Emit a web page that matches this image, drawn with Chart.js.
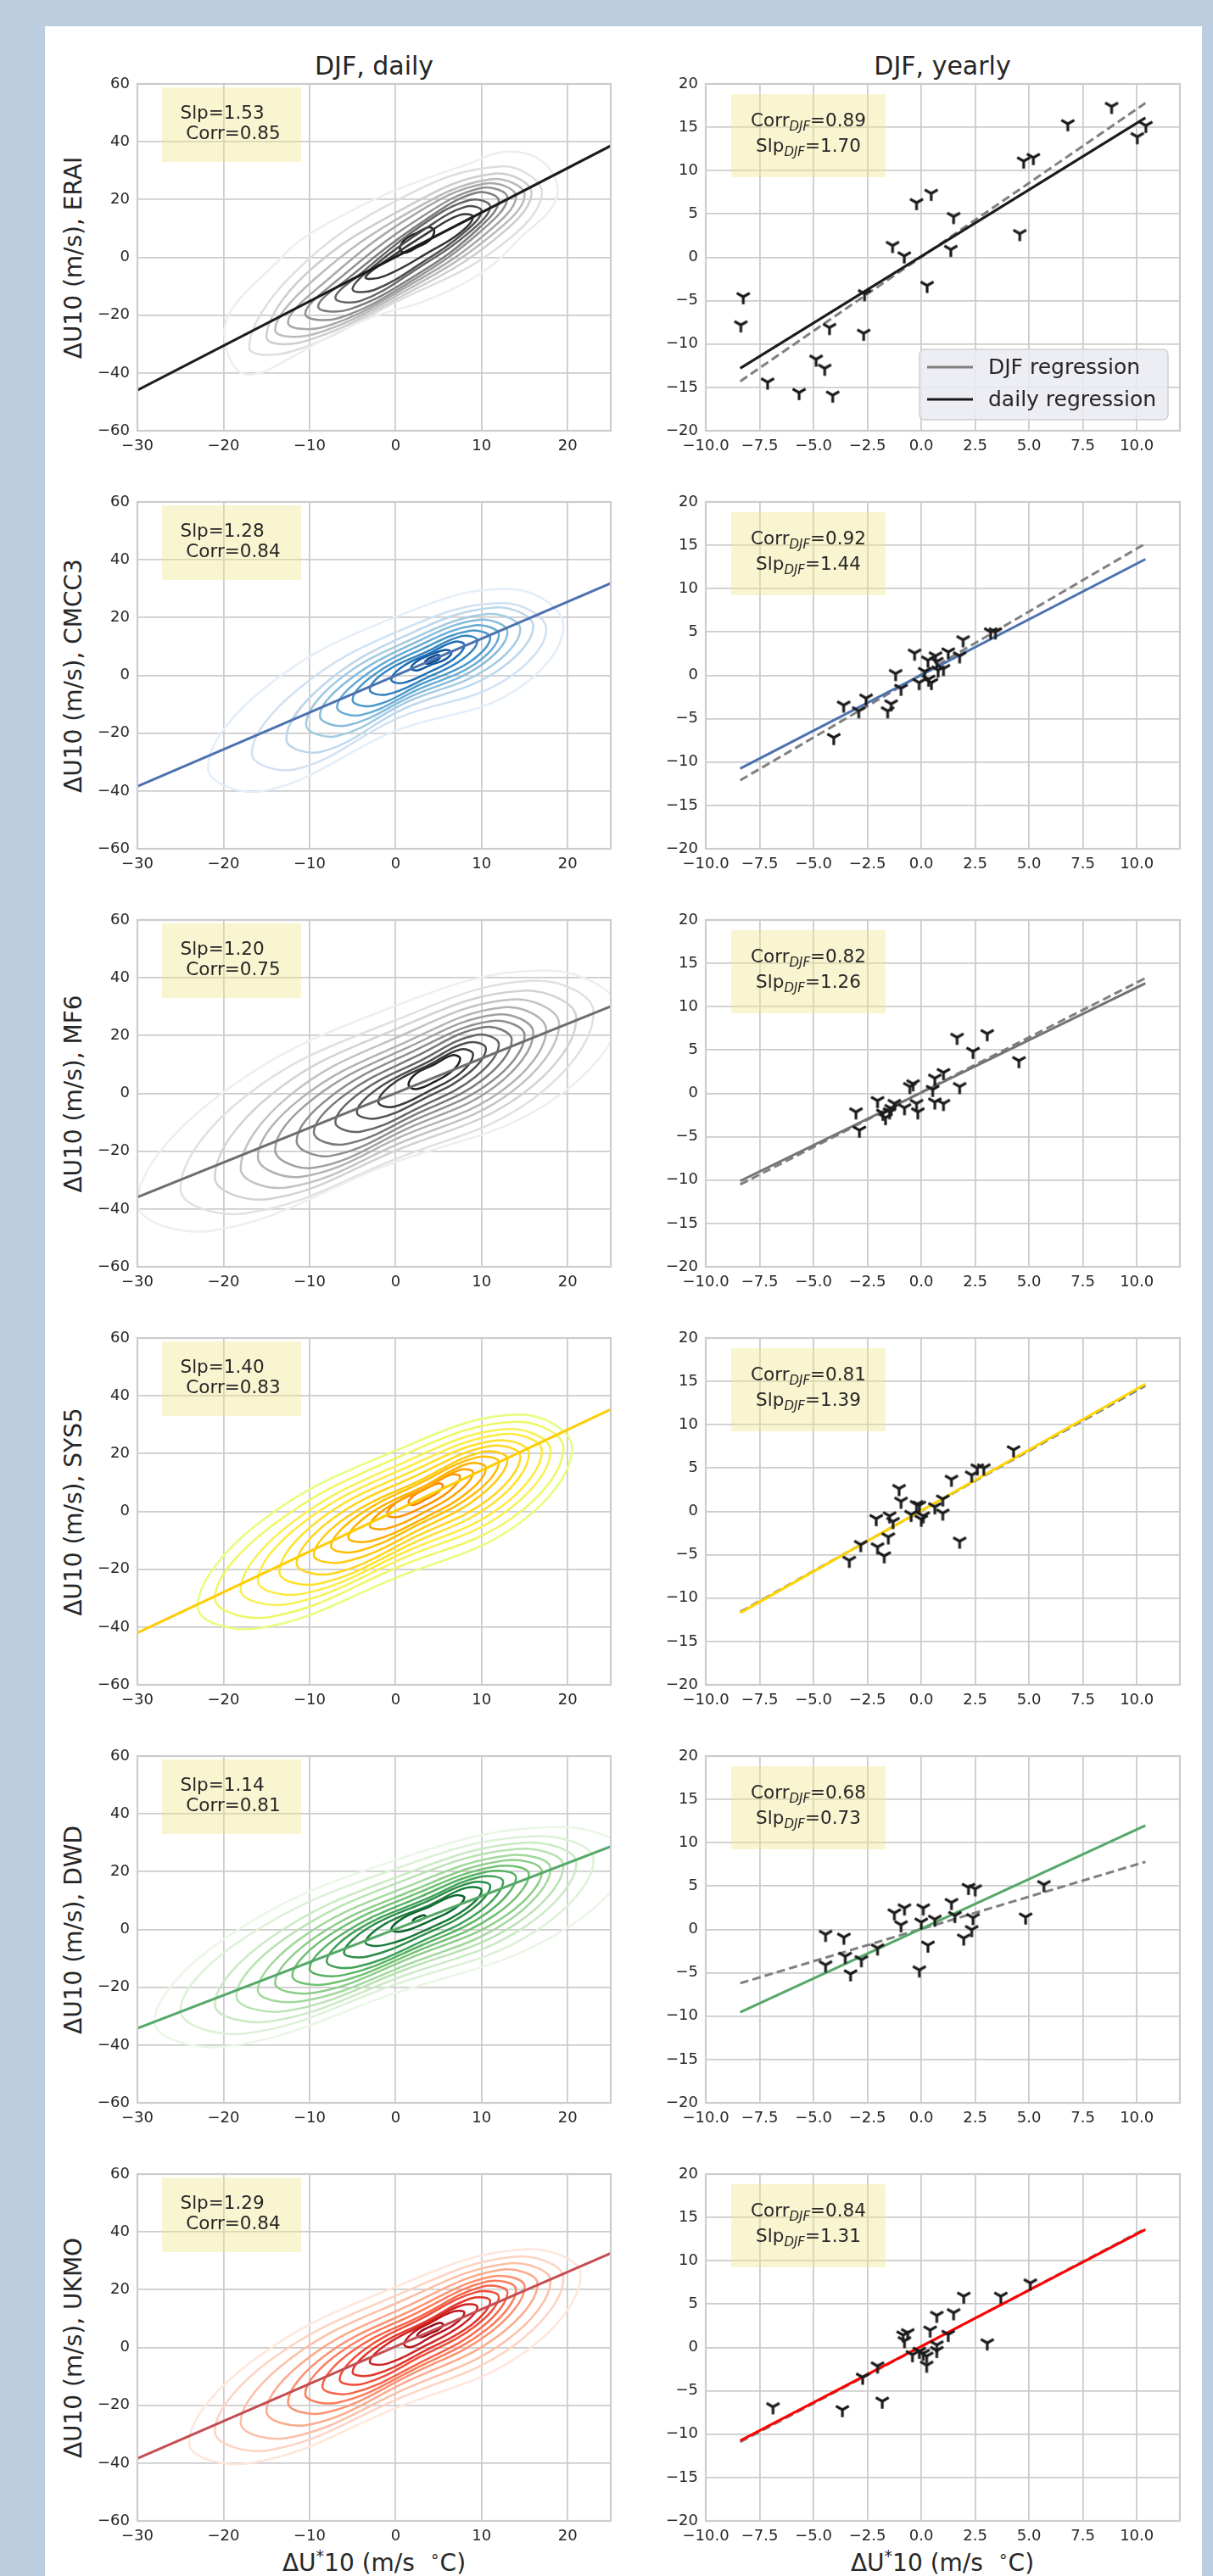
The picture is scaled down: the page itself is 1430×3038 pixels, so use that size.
<!DOCTYPE html>
<html>
<head>
<meta charset="utf-8">
<script src="https://cdn.jsdelivr.net/npm/chart.js@4.4.1/dist/chart.umd.min.js"></script>
<style>
  html, body { margin: 0; padding: 0; }
  body {
    width: 1430px; height: 3038px; position: relative; overflow: hidden;
    background: #bccde0; font-family: "DejaVu Sans", sans-serif; color: #262626;
  }
  #sheet { position: absolute; left: 53px; top: 31px; width: 1364px; height: 3007px; background: #fff; }
  canvas.cv { position: absolute; }
  .lbl { position: absolute; white-space: nowrap; transform: translate(-50%, -50%); }
  .title { font-size: 30px; }
  .xlab { font-size: 28px; }
  .ylab { font-size: 28px; transform: translate(-50%, -50%) rotate(-90deg); }
  sup { font-size: 0.68em; vertical-align: 0.55em; line-height: 0; }
</style>
</head>
<body>
<div id="sheet"></div>
<div class="lbl title" style="left:441px;top:77px">DJF, daily</div>
<div class="lbl title" style="left:1111px;top:77px">DJF, yearly</div>
<div class="lbl xlab" style="left:441px;top:3022px">ΔU<sup>*</sup>10 (m/s &nbsp;<sup>∘</sup>C)</div>
<div class="lbl xlab" style="left:1111px;top:3022px">ΔU<sup>*</sup>10 (m/s &nbsp;<sup>∘</sup>C)</div>

<script>
// ---------- data ----------
const models = ["ERAI", "CMCC3", "MF6", "SYS5", "DWD", "UKMO"];

const dailyXTicks = [-30, -20, -10, 0, 10, 20];
const dailyYTicks = [-60, -40, -20, 0, 20, 40, 60];
const yearlyXTicks = [-10, -7.5, -5, -2.5, 0, 2.5, 5, 7.5, 10];
const yearlyYTicks = [-20, -15, -10, -5, 0, 5, 10, 15, 20];

const dailySlope = [1.53, 1.28, 1.20, 1.40, 1.14, 1.29];
const dailyCorr = [0.85, 0.84, 0.75, 0.83, 0.81, 0.84];
const yearlyCorr = [0.89, 0.92, 0.82, 0.81, 0.68, 0.84];
const yearlySlope = [1.70, 1.44, 1.26, 1.39, 0.73, 1.31];

// regression lines: y at the two end x values
const dailyLineX = [-30, 25];
const eraiLineDaily = [-46, 38.6];
const cmccLineDaily = [-38.4, 31.9];
const mf6LineDaily = [-35.9, 30.1];
const sys5LineDaily = [-42, 35.3];
const dwdLineDaily = [-34.2, 28.7];
const ukmoLineDaily = [-38.4, 32.6];

const yearlyLineX = [-8.4, 10.4];
const eraiLineYr = [-12.8, 16.1], eraiLineDjf = [-14.3, 17.8];
const cmccLineYr = [-10.75, 13.4], cmccLineDjf = [-12.1, 15.2];
const mf6LineYr = [-10.1, 12.7], mf6LineDjf = [-10.5, 13.3];
const sys5LineYr = [-11.7, 14.7], sys5LineDjf = [-11.6, 14.5];
const dwdLineYr = [-9.55, 12.0], dwdLineDjf = [-6.2, 7.8];
const ukmoLineYr = [-10.75, 13.6], ukmoLineDjf = [-10.9, 13.7];

// yearly scatter
const eraiYearX = [-8.26, -8.37, -7.13, -5.67, -4.88, -4.48, -4.26, -4.11, -2.63, -2.67, -1.33, -0.79, -0.22, 0.27, 0.46, 1.37, 1.5, 4.57, 4.75, 5.2, 6.8, 8.83, 10.02, 10.42];
const eraiYearY = [-4.55, -7.8, -14.4, -15.6, -11.75, -12.8, -8.1, -15.9, -4.2, -8.77, 1.36, 0.16, 6.3, -3.25, 7.37, 0.9, 4.7, 2.73, 11.1, 11.5, 15.4, 17.4, 13.9, 15.2];
const cmccYearX = [-4.06, -3.6, -2.9, -2.56, -1.56, -1.4, -1.19, -0.94, -0.31, -0.1, 0.16, 0.31, 0.34, 0.47, 0.66, 0.72, 0.78, 1.03, 1.25, 1.78, 1.94, 3.22, 3.44];
const cmccYearY = [-7.18, -3.44, -4.1, -2.63, -4.1, -3.3, 0.2, -1.5, 2.56, -0.84, 0.45, 1.75, -0.45, -0.84, 2.24, 1.6, 0.6, 0.78, 2.7, 2.24, 4.1, 5.0, 5.0];
const mf6YearX = [-3.03, -2.87, -2.03, -1.78, -1.66, -1.47, -1.25, -0.78, -0.53, -0.38, -0.22, -0.16, 0.53, 0.63, 0.63, 1.03, 1.03, 1.78, 1.66, 2.4, 3.06, 4.53, -1.4];
const mf6YearY = [-2.14, -4.25, -0.84, -2.3, -2.8, -2.14, -1.17, -1.66, 0.78, 1.1, -1.17, -2.14, 0.45, 1.75, -1.0, 2.4, -1.17, 0.78, 6.46, 4.84, 6.88, 3.77, -1.75];
const sys5YearX = [-3.34, -2.81, -2.09, -2.03, -1.72, -1.53, -1.47, -1.31, -1.03, -0.94, -0.47, -0.22, -0.09, 0.0, 0.09, 0.63, 1.0, 1.0, 1.4, 1.78, 2.34, 2.6, 2.9, 4.28];
const sys5YearY = [-5.65, -3.83, -0.84, -4.1, -5.13, -2.95, -0.52, -1.17, 2.63, 1.17, -0.36, 0.78, 0.71, -0.9, -0.52, 0.52, 1.43, -0.2, 3.7, -3.44, 4.19, 5.0, 5.0, 7.1];
const dwdYearX = [-4.44, -4.44, -3.59, -3.53, -3.28, -2.78, -2.03, -1.25, -0.94, -0.78, -0.09, 0.0, 0.09, 0.31, 0.63, 1.4, 1.56, 1.97, 2.19, 2.5, 2.4, 2.34, 4.84, 5.69];
const dwdYearY = [-0.58, -4.1, -0.9, -3.1, -5.13, -3.5, -2.14, 1.9, 0.52, 2.47, -4.68, 0.84, 2.47, -1.82, 1.17, 3.1, 1.6, -1.0, 4.84, 4.68, 1.36, -0.03, 1.43, 5.16];
const ukmoYearX = [-6.88, -3.66, -2.72, -2.03, -1.81, -0.84, -0.78, -0.63, -0.41, -0.09, 0.09, 0.25, 0.25, 0.41, 0.72, 0.72, 0.72, 1.25, 1.5, 1.97, 3.06, 3.69, 5.06];
const ukmoYearY = [-6.85, -7.18, -3.44, -2.14, -6.2, 1.43, 0.78, 1.69, -0.84, -0.45, -0.68, -1.0, -2.05, 2.0, 3.7, 0.29, -0.36, 1.5, 4.0, 5.9, 0.52, 5.9, 7.43];

// daily density contours (outer -> inner), vertices traced round each ring
const eraiKde = [
  [[-19.9,-26.3],[-18.7,-38],[-16.5,-40.5],[-12.4,-35.1],[-7.4,-26.8],[-2.5,-20.5],[3.8,-14.6],[10.2,-4.9],[14.2,5.9],[18.7,20.5],[17.4,32.2],[13.3,36.6],[8.3,32.2],[-0.7,22.4],[-6.1,14.6],[-11.1,5.9],[-14.2,-2.9],[-18.7,-16.6]],
  [[-17,-31],[-12,-32.5],[0,-15.5],[11.5,2.5],[17,22],[12.3,31.5],[0,19.5],[-12,-6]],
  [[-15,-27.5],[-10.5,-29],[1,-13],[11,5],[15.8,22],[11.5,29],[1,17],[-10.5,-6]],
  [[-14,-25],[-9.4,-26.5],[1.5,-11],[10.8,6.8],[15,21.5],[11,27],[1.5,15.5],[-9.4,-7.5]],
  [[-12.5,-22.5],[-8.2,-24],[2,-9],[10.2,7.5],[14,21],[10.4,25.5],[2,14.5],[-8.2,-8.5]],
  [[-10.5,-19.5],[-6.6,-21],[2.5,-7],[9.7,8.5],[13,20.5],[9.9,24],[2.5,13],[-6.6,-7.5]],
  [[-9,-17],[-5.4,-18],[3,-5],[9.2,8.8],[12,19.5],[9.3,22.3],[3,12],[-5.4,-7]],
  [[-7,-14],[-4,-15],[3,-3],[8.5,8.5],[11,17.5],[8.6,19.8],[3,11],[-4,-5.5]],
  [[-5,-11],[-2.5,-11.3],[3.5,-1],[8,8.7],[10,16],[8.1,17.5],[3.5,10],[-2.5,-3]],
  [[-3.5,-7],[-1.3,-6.5],[4,2],[7.5,8.5],[9,14],[7.5,14.7],[4,9],[-1.3,-1.5]],
  [[0.5,3],[1.1,1.6],[2.5,3.5],[3.9,5.8],[4.5,9],[3.9,10.4],[2.5,8.5],[1.1,6.2]]
];
const cmccKde = [
  [[-21.8,-32],[-15.3,-40],[0,-19.2],[13.7,-5.6],[19.5,17],[13.7,29.8],[0,20.2],[-15.3,-4.6]],
  [[-16.7,-27],[-11.5,-32.4],[0.5,-14.5],[12.4,-2.2],[17.5,16],[12.4,25],[0.5,15.5],[-11.5,-5.2]],
  [[-12.7,-22],[-8.6,-26.4],[1,-11.5],[11.5,0.9],[16,17],[11.5,23.5],[1,13.5],[-8.6,-3.8]],
  [[-10.4,-17],[-6.8,-21],[1.5,-9],[10.6,2.2],[14.5,16],[10.6,21.2],[1.5,12],[-6.8,-2]],
  [[-8.8,-14],[-5.6,-17.3],[2,-7],[9.7,3],[13,15],[9.7,19.2],[2,11],[-5.6,-2]],
  [[-6.8,-11],[-4,-13.7],[2.5,-5],[9.2,3.9],[12,14],[9.2,17.3],[2.5,10],[-4,-1]],
  [[-5,-8.5],[-2.6,-10.5],[3,-3],[8.6,4.6],[11,13],[8.6,15.4],[3,9],[-2.6,0]],
  [[-3,-5],[-1,-6.6],[3.5,-1],[7.7,5.4],[9.5,12],[7.7,13.6],[3.5,8],[-1,1.6]],
  [[-0.5,-1.5],[0.9,-2.6],[4,1.3],[6.8,5.8],[8,10.5],[6.8,11.6],[4,7.7],[0.9,3.2]],
  [[1.8,2.5],[2.5,1.7],[4,3.5],[5.8,5.6],[6.5,8],[5.8,8.8],[4,7.1],[2.5,4.9]],
  [[3.4,4.5],[3.7,4],[4.3,4.6],[4.9,5.4],[5.2,6.5],[4.9,7.1],[4.3,6.4],[3.7,5.6]]
];
const mf6Kde = [
  [[-30,-38],[-21.3,-47.5],[-1,-24.8],[17.9,-3],[26,28],[17.9,42.5],[-1,29.2],[-21.3,-2.5]],
  [[-25,-33],[-17.5,-41.5],[0,-22.7],[16.1,-1.6],[23,28],[16.1,39],[0,25.3],[-17.5,-1.1]],
  [[-21,-29],[-14.7,-36.5],[0,-19.8],[14.7,-0.3],[21,26],[14.7,35.5],[0,22.2],[-14.7,-1]],
  [[-18,-26],[-12.5,-32.5],[0.5,-17.2],[13.5,0.6],[19,24],[13.5,32.5],[0.5,19.8],[-12.5,-1.2]],
  [[-16,-22],[-10.9,-28.8],[1,-14.5],[12.6,1.5],[17.5,22],[12.6,29.8],[1,17.5],[-10.9,-1.5]],
  [[-14,-19.5],[-9.4,-25.7],[1.5,-12],[11.7,2.7],[16,21],[11.7,27.3],[1.5,16],[-9.4,-1.5]],
  [[-11.5,-16.5],[-7.5,-21.6],[2,-9.5],[11.1,4],[15,20],[11.1,25],[2,14.5],[-7.5,-1]],
  [[-9.5,-13.5],[-5.9,-17.6],[2.5,-7],[10.2,4.9],[13.5,18.5],[10.2,22.9],[2.5,13],[-5.9,-0.5]],
  [[-7,-10],[-4,-13.2],[3,-4.5],[9.3,5.8],[12,17],[9.3,20.2],[3,11.5],[-4,0.5]],
  [[-4.5,-6.5],[-2.1,-8.6],[3.5,-1.5],[8.4,6.8],[10.5,15.5],[8.4,17.6],[3.5,10.5],[-2.1,1.6]],
  [[-2,-3],[-0.2,-4.6],[4,1],[7.5,7],[9,13.5],[7.5,15.2],[4,10],[-0.2,3.6]],
  [[1.5,3],[2.4,1.5],[4.5,4],[6.6,7.8],[7.5,12],[6.6,13.2],[4.5,10],[2.4,6.9]]
];
const sys5Kde = [
  [[-23,-33],[-16.1,-40.5],[0,-23],[14.4,-4],[20.5,22],[14.4,33.5],[0,21],[-16.1,-4.5]],
  [[-21,-30],[-14.6,-36.5],[0.5,-19],[13.8,-1.7],[19.5,22],[13.8,31],[0.5,19],[-14.6,-5.5]],
  [[-18,-27],[-12.3,-32],[1,-16],[12.9,0.1],[18,21],[12.9,28.5],[1,17],[-12.3,-4.5]],
  [[-16,-24],[-10.8,-28.5],[1.5,-13.5],[12.4,1.9],[17,21],[12.4,26.7],[1.5,15.5],[-10.8,-4]],
  [[-13.5,-21],[-8.9,-25],[2,-11],[11.5,3.2],[15.5,20],[11.5,24.5],[2,14],[-8.9,-3]],
  [[-11.5,-18],[-7.3,-21.5],[2.5,-8.5],[10.9,4.4],[14.5,19],[10.9,22.6],[2.5,12.5],[-7.3,-2.5]],
  [[-9.5,-15],[-5.8,-17.4],[3,-6],[10,5.8],[13,18],[10,20.5],[3,11],[-5.8,-2.2]],
  [[-7.5,-12],[-4.4,-13.8],[3,-4],[9.3,6.5],[12,17],[9.3,18.6],[3,10],[-4.4,-1.5]],
  [[-5.5,-9],[-2.8,-10.2],[3.5,-2],[8.4,6.7],[10.5,15],[8.4,16.5],[3.5,9],[-2.8,-0.4]],
  [[-3,-5],[-1,-5.9],[3.5,0],[7.4,7.1],[9,13.5],[7.4,14.3],[3.5,8],[-1,1.3]],
  [[-1,-1],[0.3,-1.9],[3.5,2],[6.3,7.2],[7.5,12],[6.3,12.6],[3.5,8],[0.3,3.5]],
  [[1.5,3],[2.1,2.3],[3.5,4.2],[4.9,6.5],[5.5,9],[4.9,9.7],[3.5,7.8],[2.1,5.5]]
];
const dwdKde = [
  [[-28,-32],[-19.8,-40.5],[-0.5,-22.5],[18.8,-1.5],[27,25],[18.8,35.5],[-0.5,23.5],[-19.8,-3]],
  [[-25,-28],[-17.5,-36],[0,-19],[16.1,-0.9],[23,24],[16.1,32.3],[0,21],[-17.5,-2.8]],
  [[-21,-26],[-14.6,-31.8],[0.5,-16.5],[14.9,0.7],[21,23],[14.9,30],[0.5,18.5],[-14.6,-3]],
  [[-18.5,-23],[-12.7,-28.2],[1,-14],[14,2],[19.5,22],[14,27.8],[1,17],[-12.7,-2.8]],
  [[-16,-21],[-10.8,-24.8],[1.5,-12],[13.1,3],[18,21],[13.1,25.6],[1.5,15],[-10.8,-2.6]],
  [[-14,-18.5],[-9.2,-21.8],[2,-9.5],[12.5,4.2],[17,20],[12.5,23.8],[2,13.5],[-9.2,-2.4]],
  [[-12,-16],[-7.7,-18.8],[2.5,-7.5],[11.6,5.1],[15.5,19],[11.6,21.8],[2.5,12.5],[-7.7,-2]],
  [[-10,-13.5],[-6.1,-15.8],[3,-5.5],[10.7,5.9],[14,18],[10.7,20],[3,11.5],[-6.1,-1.4]],
  [[-8,-11],[-4.6,-13],[3.5,-3.5],[9.8,6.3],[12.5,16.5],[9.8,18.2],[3.5,10.5],[-4.6,-0.4]],
  [[-6,-8],[-3.2,-9.3],[3.5,-1.5],[8.8,6.8],[11,15],[8.8,16.2],[3.5,9.5],[-3.2,0.5]],
  [[-3.5,-4.5],[-1.3,-5.4],[4,0.5],[8.2,7.2],[10,13.5],[8.2,14.4],[4,8.5],[-1.3,1.8]],
  [[-0.5,0],[0.9,-0.6],[4,3],[6.8,7.1],[8,11],[6.8,11.7],[4,8],[0.9,4]],
  [[2,3],[2.2,2.7],[2.7,3],[3.3,3.9],[3.5,4.5],[3.3,4.9],[2.7,4.4],[2.2,3.7]]
];
const ukmoKde = [
  [[-24,-33],[-16.8,-40],[0,-21],[15.1,-1.4],[21.5,25],[15.1,34],[0,21],[-16.8,-5]],
  [[-21,-29],[-14.6,-35.5],[0.5,-17.5],[13.8,0.8],[19.5,24],[13.8,31.4],[0.5,18.5],[-14.6,-4.5]],
  [[-18,-26],[-12.3,-31.2],[1,-14.5],[12.9,2.5],[18,23],[12.9,29],[1,16.5],[-12.3,-4]],
  [[-15,-22],[-10,-26.7],[1.5,-11.5],[12,4.2],[16.5,22],[12,26.8],[1.5,14.5],[-10,-3.3]],
  [[-12.5,-19],[-8.2,-22.6],[2,-9],[11.1,5.4],[15,21],[11.1,24.5],[2,13],[-8.2,-2.8]],
  [[-10.5,-16],[-6.6,-19],[2.5,-7],[10.6,6.3],[14,20],[10.6,22.8],[2.5,12],[-6.6,-2]],
  [[-8.5,-13.5],[-5.1,-15.8],[3,-5],[10,7],[13,19],[10,21],[3,11],[-5.1,-1.4]],
  [[-6.5,-11],[-3.7,-12.5],[3,-3],[9.3,7.5],[12,17.5],[9.3,19.1],[3,10],[-3.7,-0.9]],
  [[-5,-8.5],[-2.5,-9.4],[3.5,-1],[8.8,7.8],[11,16],[8.8,17],[3.5,9],[-2.5,-0.2]],
  [[-3,-5],[-1,-5.6],[3.5,0.7],[7.7,7.8],[9.5,14],[7.7,14.6],[3.5,8.3],[-1,1.2]],
  [[1,1],[1.9,0.2],[4,3.5],[6.8,7.9],[8,12],[6.8,12.5],[4,8.5],[1.9,4.8]],
  [[2.5,4],[3,3.6],[4,4.8],[5.1,6.4],[5.5,8],[5.1,8.5],[4,7.2],[3,5.7]]
];

// ---------- styles ----------
const greys11 = ["#eeeeee","#dedede","#cdcdcd","#bbbbbb","#a8a8a8","#939393","#7d7d7d","#666666","#4e4e4e","#363636","#1e1e1e"];
const greys12 = ["#eeeeee","#e0e0e0","#d2d2d2","#c2c2c2","#b2b2b2","#a0a0a0","#8e8e8e","#7a7a7a","#666666","#505050","#3a3a3a","#222222"];
const blues11 = ["#e3eef9","#d0e1f2","#bcd7eb","#a3cbe3","#85bcdc","#66abd4","#4a98c9","#3383be","#1f6eb3","#0e58a2","#08458a"];
const wistia12 = ["#e4ff7a","#eef866","#f7f153","#ffea3f","#ffe12c","#ffd61d","#ffcb10","#ffbe05","#ffb000","#ffa200","#fe9200","#fc7f00"];
const greens13 = ["#eaf6e6","#dcf1d6","#cbeac4","#b8e2b1","#a2d89c","#8ccd87","#72c173","#58b264","#40a157","#2d8e49","#1b7a3b","#0c652f","#005524"];
const reds12 = ["#fee6da","#fdd3c1","#fcbfa7","#fca98c","#fc9272","#fb7c5c","#f86448","#f14d39","#e3362b","#cf2222","#b7161c","#99091a"];

const panels = [
  { kde: eraiKde, cols: greys11, lineD: eraiLineDaily, colD: "#1c1c1c", yx: eraiYearX, yy: eraiYearY, lineY: eraiLineYr, lineJ: eraiLineDjf, colY: "#1c1c1c" },
  { kde: cmccKde, cols: blues11, lineD: cmccLineDaily, colD: "#4c72b0", yx: cmccYearX, yy: cmccYearY, lineY: cmccLineYr, lineJ: cmccLineDjf, colY: "#4c72b0" },
  { kde: mf6Kde, cols: greys12, lineD: mf6LineDaily, colD: "#6e6e6e", yx: mf6YearX, yy: mf6YearY, lineY: mf6LineYr, lineJ: mf6LineDjf, colY: "#747474" },
  { kde: sys5Kde, cols: wistia12, lineD: sys5LineDaily, colD: "#ffcc00", yx: sys5YearX, yy: sys5YearY, lineY: sys5LineYr, lineJ: sys5LineDjf, colY: "#ffd400" },
  { kde: dwdKde, cols: greens13, lineD: dwdLineDaily, colD: "#55a868", yx: dwdYearX, yy: dwdYearY, lineY: dwdLineYr, lineJ: dwdLineDjf, colY: "#55a868" },
  { kde: ukmoKde, cols: reds12, lineD: ukmoLineDaily, colD: "#c44e52", yx: ukmoYearX, yy: ukmoYearY, lineY: ukmoLineYr, lineJ: ukmoLineDjf, colY: "#ff0000" }
];

const ROW0 = 99, ROWSTEP = 493, PH = 409;
const YAXIS_W = 100, XAXIS_H = 55, PAD_TOP = 20, PAD_RIGHT = 22;
const TEXT = "#262626", GRID = "#cccccc", BOX = "rgba(240,230,140,0.4)";
const FONT = '"DejaVu Sans"';

// tri_down marker
const triImg = (() => {
  const r = 8.8, lw = 3.2;
  const c = document.createElement("canvas");
  const s = Math.ceil(2 * r + 2 * lw);
  c.width = s; c.height = s;
  const g = c.getContext("2d");
  const m = s / 2;
  g.strokeStyle = "#1a1a1a"; g.lineWidth = lw;
  g.beginPath();
  g.moveTo(m, m); g.lineTo(m, m + r);
  g.moveTo(m, m); g.lineTo(m - 0.866 * r, m - 0.5 * r);
  g.moveTo(m, m); g.lineTo(m + 0.866 * r, m - 0.5 * r);
  g.stroke();
  return c;
})();

const signed = v => (v < 0 ? "\u2212" : "") + Math.abs(v);
const signed1 = v => (v < 0 ? "\u2212" : "") + Math.abs(v).toFixed(1);

function axis(min, max, ticks, fmt, isX) {
  return {
    type: "linear", min, max,
    grid: { color: GRID, lineWidth: 1.8, drawTicks: false },
    border: { display: false },
    ticks: {
      color: TEXT, font: { family: "DejaVu Sans", size: 18 },
      padding: isX ? 8 : 9, autoSkip: false, maxRotation: 0, includeBounds: false,
      callback: fmt
    },
    afterBuildTicks: s => { s.ticks = ticks.map(v => ({ value: v })); },
    afterFit: s => { if (isX) s.height = XAXIS_H; else s.width = YAXIS_W; }
  };
}

// frame, text boxes and legend
const decor = {
  id: "decor",
  afterDatasetsDraw(chart, args, o) {
    const ctx = chart.ctx, a = chart.chartArea;
    ctx.save();
    if (o.leftBox) {
      ctx.fillStyle = BOX;
      ctx.fillRect(a.left + 29, a.top + 4, 164, 88);
      ctx.fillStyle = TEXT;
      ctx.font = "21.5px " + FONT;
      ctx.textAlign = "left"; ctx.textBaseline = "middle";
      ctx.fillText(o.leftBox[0], a.left + 50.5, a.top + 35);
      ctx.fillText(o.leftBox[1], a.left + 50.5, a.top + 59);
    }
    if (o.rightBox) {
      ctx.fillStyle = BOX;
      ctx.fillRect(a.left + 30, a.top + 12, 182, 98);
      ctx.fillStyle = TEXT;
      ctx.textAlign = "left"; ctx.textBaseline = "alphabetic";
      o.rightBox.forEach((row, i) => {
        const base = a.top + 50 + 30 * i;
        const big = "21.5px " + FONT, small = "italic 15px " + FONT;
        ctx.font = big; const w0 = ctx.measureText(row[0]).width, w2 = ctx.measureText(row[2]).width;
        ctx.font = small; const w1 = ctx.measureText(row[1]).width;
        let x = a.left + 121 - (w0 + w1 + w2) / 2;
        ctx.font = big; ctx.fillText(row[0], x, base); x += w0;
        ctx.font = small; ctx.fillText(row[1], x, base + 5); x += w1;
        ctx.font = big; ctx.fillText(row[2], x, base);
      });
    }
    if (o.legend) {
      const lx = a.left + 252, ly = a.top + 313;
      ctx.beginPath();
      ctx.roundRect(lx, ly, 293, 83, 6);
      ctx.fillStyle = "rgba(234,234,242,0.85)"; ctx.fill();
      ctx.strokeStyle = "#d0d0d0"; ctx.lineWidth = 1.5; ctx.stroke();
      const items = [["DJF regression", "#808080"], ["daily regression", "#1a1a1a"]];
      items.forEach((it, i) => {
        const y = ly + 21 + 38 * i;
        ctx.strokeStyle = it[1]; ctx.lineWidth = 3;
        ctx.beginPath(); ctx.moveTo(lx + 9, y); ctx.lineTo(lx + 63, y); ctx.stroke();
        ctx.fillStyle = TEXT; ctx.font = "25px " + FONT;
        ctx.textAlign = "left"; ctx.textBaseline = "middle";
        ctx.fillText(it[0], lx + 81, y + 1);
      });
    }
    ctx.strokeStyle = GRID; ctx.lineWidth = 2.2;
    ctx.strokeRect(a.left, a.top, a.right - a.left, a.bottom - a.top);
    ctx.restore();
  }
};

// closed smooth ring: pad with neighbours so the join is smooth, hide the two pad segments
function ringDataset(ring, color) {
  const n = ring.length;
  const pts = [ring[n - 1], ...ring, ring[0], ring[1]].map(p => ({ x: p[0], y: p[1] }));
  const last = pts.length - 1;
  return {
    data: pts, showLine: true, borderColor: color, borderWidth: 2.5, pointRadius: 0,
    tension: 0.4, borderCapStyle: "round", borderJoinStyle: "round",
    segment: { borderColor: c => (c.p0DataIndex === 0 || c.p1DataIndex === last) ? "rgba(0,0,0,0)" : undefined }
  };
}

function lineDataset(xs, ys, color, dash) {
  return {
    data: xs.map((x, i) => ({ x, y: ys[i] })), showLine: true, borderColor: color,
    borderWidth: 3, pointRadius: 0, borderDash: dash || []
  };
}

function makeCanvas(left, top, w, h) {
  const c = document.createElement("canvas");
  c.className = "cv";
  c.width = w; c.height = h;
  c.style.left = left + "px"; c.style.top = top + "px";
  c.style.width = w + "px"; c.style.height = h + "px";
  document.body.appendChild(c);
  return c;
}

function baseOptions(xAxis, yAxis, decorOpts) {
  return {
    responsive: false, animation: false, devicePixelRatio: 1,
    layout: { padding: { left: 0, top: PAD_TOP, right: PAD_RIGHT, bottom: 0 } },
    elements: { line: { capBezierPoints: false } },
    plugins: { legend: { display: false }, tooltip: { enabled: false }, decor: decorOpts },
    events: [],
    scales: { x: xAxis, y: yAxis }
  };
}

panels.forEach((p, i) => {
  const rowTop = ROW0 + ROWSTEP * i;

  const yl = document.createElement("div");
  yl.className = "lbl ylab";
  yl.style.left = "86px"; yl.style.top = (rowTop + PH / 2) + "px";
  yl.textContent = "ΔU10 (m/s), " + models[i];
  document.body.appendChild(yl);

  // daily panel
  const dailySets = [lineDataset(dailyLineX, p.lineD, p.colD)];
  p.kde.forEach((ring, k) => dailySets.push(ringDataset(ring, p.cols[k])));
  new Chart(makeCanvas(162 - YAXIS_W, rowTop - PAD_TOP, YAXIS_W + 558 + PAD_RIGHT, PAD_TOP + PH + XAXIS_H), {
    type: "scatter",
    data: { datasets: dailySets },
    options: baseOptions(
      axis(-30, 25, dailyXTicks, signed, true),
      axis(-60, 60, dailyYTicks, signed, false),
      { leftBox: ["Slp=" + dailySlope[i].toFixed(2), " Corr=" + dailyCorr[i].toFixed(2)] }
    ),
    plugins: [decor]
  });

  // yearly panel
  const yearSets = [
    { data: p.yx.map((x, j) => ({ x, y: p.yy[j] })), pointStyle: triImg, pointRadius: 9, showLine: false },
    lineDataset(yearlyLineX, p.lineY, p.colY),
    lineDataset(yearlyLineX, p.lineJ, "#808080", [10, 5])
  ];
  new Chart(makeCanvas(832 - YAXIS_W, rowTop - PAD_TOP, YAXIS_W + 559 + PAD_RIGHT, PAD_TOP + PH + XAXIS_H), {
    type: "scatter",
    data: { datasets: yearSets },
    options: baseOptions(
      axis(-10, 12, yearlyXTicks, signed1, true),
      axis(-20, 20, yearlyYTicks, signed, false),
      {
        rightBox: [["Corr", "DJF", "=" + yearlyCorr[i].toFixed(2)], ["Slp", "DJF", "=" + yearlySlope[i].toFixed(2)]],
        legend: i === 0
      }
    ),
    plugins: [decor]
  });
});
</script>
</body>
</html>
